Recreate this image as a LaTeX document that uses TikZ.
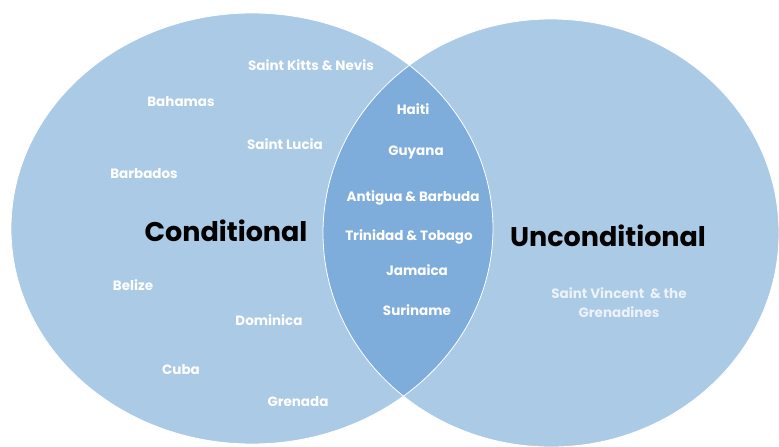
\documentclass[tikz,border=0pt]{standalone}
\usepackage{fontspec}
\setmainfont{Poppins}
\definecolor{vennblue}{RGB}{171,202,229}
\definecolor{lensblue}{RGB}{126,173,219}
\definecolor{softwhite}{RGB}{236,242,249}
\begin{document}
\begin{tikzpicture}[x=1pt,y=-1pt,
  country/.style={text=white,font=\bfseries\fontsize{13.5}{19}\selectfont,inner sep=0pt},
  group/.style={text=black,font=\bfseries\fontsize{27}{32}\selectfont,inner sep=0pt},
  rim/.style={draw=white,line width=0.8pt}]
\useasboundingbox (0,0) rectangle (779,447);
\clip (0,0) rectangle (779,447);
% the two sets
\fill[vennblue] (252,228.5) ellipse [x radius=241pt, y radius=215.5pt];
\fill[vennblue] (551,233) ellipse [x radius=228pt, y radius=214pt];
% overlap
\begin{scope}
  \clip (252,228.5) ellipse [x radius=241pt, y radius=215.5pt];
  \fill[lensblue] (551,233) ellipse [x radius=228pt, y radius=214pt];
\end{scope}
\draw[rim] (252,228.5) ellipse [x radius=241pt, y radius=215.5pt];
\draw[rim] (551,233) ellipse [x radius=228pt, y radius=214pt];
% group titles
\node[group] (cond) at (226,231) {Conditional};
\node[group] (uncond) at (608,236) {Unconditional};
% conditional only
\node[country] (skn) at (311,65) {Saint Kitts \& Nevis};
\node[country] (bah) at (181,102) {Bahamas};
\node[country] (slu) at (285,144) {Saint Lucia};
\node[country] (bar) at (144,174) {Barbados};
\node[country] (bel) at (133,285) {Belize};
\node[country] (dom) at (269,320) {Dominica};
\node[country] (cub) at (181,370) {Cuba};
\node[country] (gre) at (298,402) {Grenada};
% both
\node[country] (hai) at (413,109) {Haiti};
\node[country] (guy) at (416,152) {Guyana};
\node[country] (ant) at (413,198) {Antigua \& Barbuda};
\node[country] (tri) at (409,237) {Trinidad \& Tobago};
\node[country] (jam) at (417,270) {Jamaica};
\node[country] (sur) at (417,310) {Suriname};
% unconditional only
\node[country,text=softwhite,align=center] (svg) at (619,303) {Saint Vincent\ \ \& the\\Grenadines};
\end{tikzpicture}
\end{document}
